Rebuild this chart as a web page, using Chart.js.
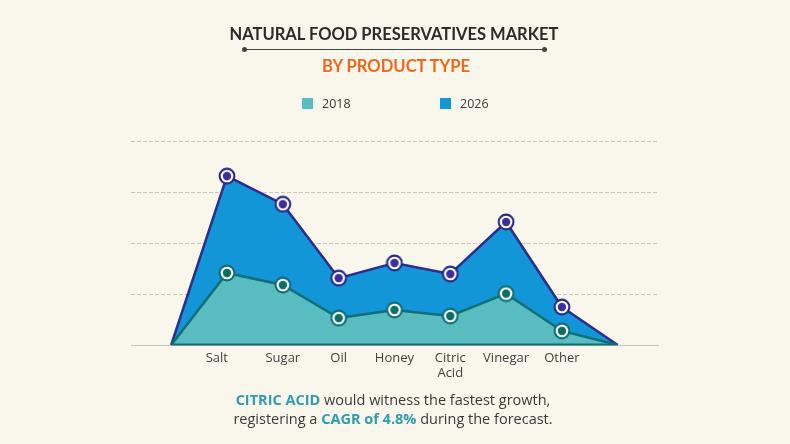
<!DOCTYPE html>
<html>
<head>
<meta charset="utf-8">
<title>Natural Food Preservatives Market</title>
<script src="https://cdn.jsdelivr.net/npm/chart.js@4"></script>
<style>
    html, body { margin: 0; padding: 0; background: #f9f6ec; }
    #page { position: relative; width: 790px; height: 444px; overflow: hidden; font-family: 'Open Sans', sans-serif; color: #3a3a3a; }
    #grafico { position: absolute; left: 0; top: 0; }
    .texto { position: absolute; left: 0; width: 790px; text-align: center; white-space: nowrap; }
    #titulo { top: 23px; left: -1px; font: 700 16.5px/22px Lato, sans-serif; color: #2b2b2b; }
    #subtitulo { top: 55px; left: 1px; font: 700 16.6px/22px Lato, sans-serif; color: #f2661a; }
    #regra { position: absolute; left: 244px; top: 48.5px; width: 301px; height: 1.5px; background: #444; }
    #regra::before, #regra::after { content: ''; position: absolute; top: -1.5px; width: 5px; height: 5px; border-radius: 50%; background: #444; }
    #regra::before { left: -2px; }
    #regra::after { right: -2px; }
    #legenda { position: absolute; top: 96px; left: 0; width: 790px; height: 16px; font-size: 12.5px; line-height: 16px; }
    #legenda span { position: absolute; top: 0; }
    #legenda i { position: absolute; top: 2px; left: -20px; width: 11px; height: 11px; }
    #rodape { top: 390px; left: -2px; font-size: 14.5px; line-height: 19px; }
    #rodape b { color: #2f9cb0; }
</style>
</head>
<body>
<div id="page">
    <canvas id="grafico" width="790" height="444"></canvas>
    <div class="texto" id="titulo">NATURAL FOOD PRESERVATIVES MARKET</div>
    <div id="regra"></div>
    <div class="texto" id="subtitulo">BY PRODUCT TYPE</div>
    <div id="legenda"></div>
    <div class="texto" id="rodape"><b>CITRIC ACID</b> would witness the fastest growth,<br>registering a <b>CAGR of 4.8%</b> during the forecast.</div>
</div>
<script>
// first and last entries are the empty ends where the areas touch the axis
const categorias = ['', 'Salt', 'Sugar', 'Oil', 'Honey', ['Citric', 'Acid'], 'Vinegar', 'Other', ''];
const valores2018 = [0, 35.3, 29.4, 13.2, 17.2, 14.2, 25.2, 6.9, 0];
const valores2026 = [0, 82.8, 69, 32.8, 40.2, 34.8, 60.3, 18.6, 0];
const marcasY = [0, 25, 50, 75, 100];

// ring marker: dark outline, white ring, dark dot
function criarMarcador(contorno, miolo) {
    const c = document.createElement('canvas');
    c.width = 18;
    c.height = 18;
    const ctx = c.getContext('2d');
    [[8.4, contorno], [6.3, '#ffffff'], [4.2, miolo]].forEach(([r, cor]) => {
        ctx.beginPath();
        ctx.arc(9, 9, r, 0, Math.PI * 2);
        ctx.fillStyle = cor;
        ctx.fill();
    });
    return c;
}

function serie(label, valores, fundo, linha, marcador) {
    return {
        label: label,
        data: valores.map((v, i) => ({ x: i, y: v })),
        backgroundColor: fundo,
        borderColor: linha,
        borderWidth: 2.5,
        fill: 'origin',
        tension: 0,
        pointStyle: marcador,
        pointRadius: ctx => (ctx.raw.y === 0 ? 0 : 9),
        pointHoverRadius: ctx => (ctx.raw.y === 0 ? 0 : 9)
    };
}

// thick teal base under the areas
const linhaBase = {
    id: 'linhaBase',
    afterDatasetsDraw(chart) {
        const { ctx, scales } = chart;
        ctx.save();
        ctx.strokeStyle = '#0f6e76';
        ctx.lineWidth = 2;
        ctx.beginPath();
        ctx.moveTo(scales.x.getPixelForValue(0), scales.y.getPixelForValue(0) - 0.5);
        ctx.lineTo(scales.x.getPixelForValue(categorias.length - 1), scales.y.getPixelForValue(0) - 0.5);
        ctx.stroke();
        ctx.restore();
    }
};

const grafico = new Chart(document.getElementById('grafico').getContext('2d'), {
    type: 'line',
    data: {
        datasets: [
            serie('2018', valores2018, '#58bcc0', '#0f6e76', criarMarcador('#0f6e76', '#0b6e60')),
            serie('2026', valores2026, '#1396d8', '#2b2d8f', criarMarcador('#26288a', '#3b2f9e'))
        ]
    },
    options: {
        responsive: false,
        animation: false,
        layout: { padding: { left: 131, right: 131, top: 141, bottom: 0 } },
        plugins: {
            legend: { display: false },
            tooltip: { enabled: false }
        },
        scales: {
            x: {
                type: 'linear',
                min: -0.72,
                max: categorias.length - 1 + 0.74,
                afterBuildTicks(scale) {
                    scale.ticks = categorias.map((c, i) => ({ value: i })).filter(t => categorias[t.value] !== '');
                },
                afterFit(scale) { scale.height = 99; },
                grid: { display: false },
                border: { display: false },
                ticks: {
                    autoSkip: false,
                    maxRotation: 0,
                    padding: -3,
                    color: '#3f3f3f',
                    font: { family: "'Open Sans', sans-serif", size: 13, weight: '500' },
                    // the Salt label sits left of its point in the original
                    callback: value => (value === 1 ? categorias[value] + '      ' : categorias[value])
                }
            },
            y: {
                min: 0,
                max: 100,
                afterBuildTicks(scale) {
                    scale.ticks = marcasY.map(v => ({ value: v }));
                },
                afterFit(scale) { scale.width = 0; },
                border: {
                    display: false,
                    // dashed upper grid lines, solid at the axis
                    dash: ctx => (ctx.tick && ctx.tick.value === 0 ? [] : [4, 2])
                },
                ticks: { display: false },
                grid: {
                    drawTicks: false,
                    color: '#c9c5b8',
                    lineWidth: 1
                }
            }
        }
    },
    plugins: [linhaBase]
});

// legend built from the datasets
const legenda = document.getElementById('legenda');
const posicoesLegenda = [322, 460];
grafico.data.datasets.forEach((d, i) => {
    const item = document.createElement('span');
    item.style.left = posicoesLegenda[i] + 'px';
    item.innerHTML = `<i style="background:${d.backgroundColor}"></i>${d.label}`;
    legenda.appendChild(item);
});
</script>
</body>
</html>
